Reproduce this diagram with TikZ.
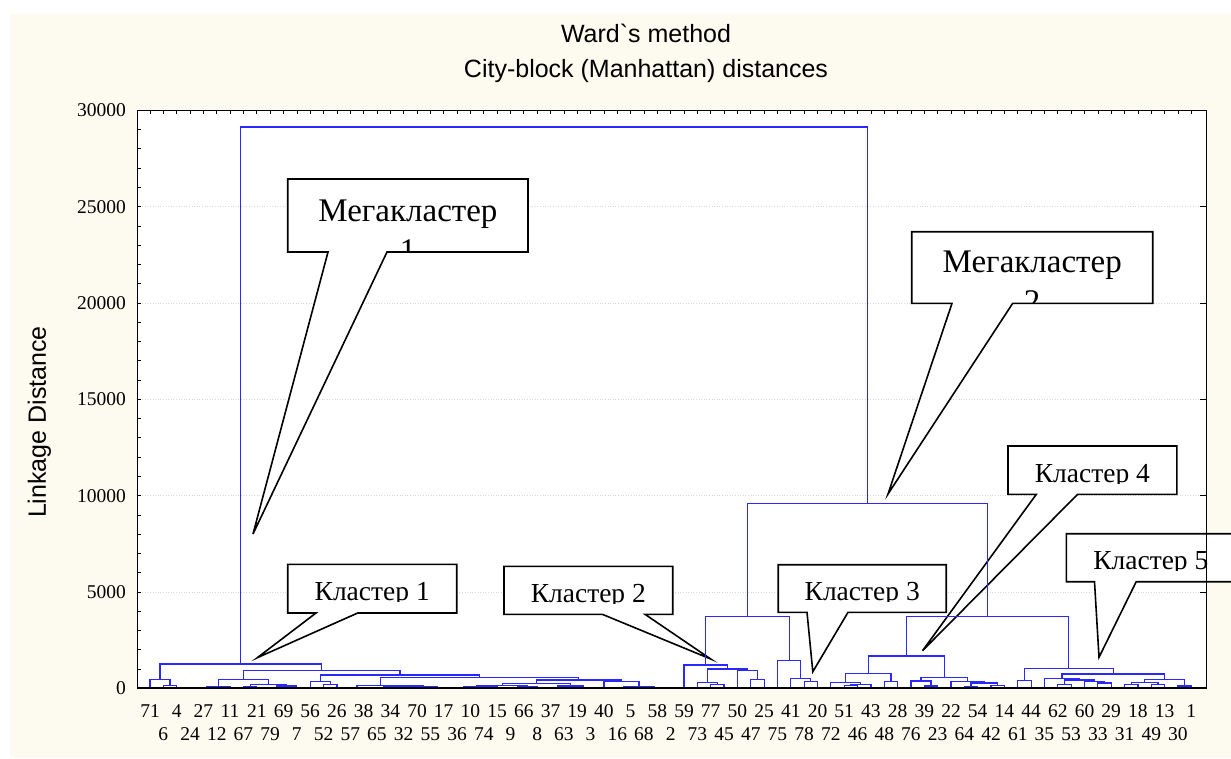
\documentclass[tikz,border=0pt]{standalone}
\usepackage{fontspec}
\setmainfont{Liberation Serif}
\newfontfamily\arialfont{Liberation Sans}
\usepackage{xcolor}
\usetikzlibrary{calc}

\definecolor{cream}{RGB}{253,250,240}
\definecolor{dendro}{RGB}{40,40,255}
\definecolor{gridgray}{RGB}{215,215,215}

% one link of the tree: name, left child, right child, height (x1000)
\newcommand{\dmerge}[4]{%
    \coordinate (#1m) at ($(#2)!0.5!(#3)$);
    \coordinate (#1h) at ($(origin)+(0,#4)$);
    \coordinate (#1) at (#1m |- #1h);
    \draw[link] (#2) |- (#1) -| (#3);
}

\begin{document}
\begin{tikzpicture}[x=1pt, y=-1pt]

\tikzset{
    link/.style = {draw=dendro, line width=1.2pt},
    gridline/.style = {draw=gridgray, dotted, line width=0.6pt},
    titlelab/.style = {font=\arialfont\fontsize{25}{30}\selectfont, inner sep=0pt},
    axlab/.style = {font=\fontsize{19.5}{23}\selectfont, inner sep=0pt, anchor=east},
    leaflab/.style = {font=\fontsize{19.5}{23}\selectfont, inner sep=0pt}
}

\tikzstyle{callout}=[draw=black, fill=white, line width=1.6pt, line join=miter]
\tikzstyle{megalab}=[font=\fontsize{33}{38}\selectfont, inner sep=0pt, anchor=base]
\tikzstyle{clulab}=[font=\fontsize{27.5}{33}\selectfont, inner sep=0pt, anchor=base]

\useasboundingbox (0,0) rectangle (1231,758);
\fill[cream] (10,14) rectangle (1231,758);
\fill[white] (137,110) rectangle (1206,688.3);

\foreach \v in {5,10,15,20,25}{
    \draw[gridline] (137,{688.3-19.267*\v}) -- (1206,{688.3-19.267*\v});
}

\node[titlelab] (title-1) at (646,33) {Ward\textasciigrave s method};
\node[titlelab] (title-2) at (646,71) {City-block (Manhattan) distances};
\node[titlelab, rotate=90] (ylabel) at (39.5,422) {Linkage Distance};

\foreach \v/\lab in {0/0,5/5000,10/10000,15/15000,20/20000,25/25000,30/30000}{
    \node[axlab] (y-\v) at (126,{688.3-19.267*\v}) {\lab};
}

% callouts
\path[callout] (287.7,179) -- (528,179) -- (528,252) -- (387,252) -- (253,534) -- (328,252) -- (287.7,252) -- cycle;
\begin{scope}
\clip (289,180) rectangle (527,251);
\node[megalab] (mega-1) at (407.9,221) {Мегакластер};
\node[megalab] (mega-1b) at (407.9,261) {1};
\end{scope}

\path[callout] (911.7,231.7) -- (1152.7,231.7) -- (1152.7,303.3) -- (1012.7,303.3) -- (888,494) -- (952,303.3) -- (911.7,303.3) -- cycle;
\begin{scope}
\clip (913,233) rectangle (1151,302.3);
\node[megalab] (mega-2) at (1032.2,272.7) {Мегакластер};
\node[megalab] (mega-2b) at (1032.2,312.7) {2};
\end{scope}

\path[callout] (287.7,564.3) -- (456.7,564.3) -- (456.7,613) -- (357.7,613) -- (257.3,657.7) -- (316,613) -- (287.7,613) -- cycle;
\begin{scope}
\clip (289,565.5) rectangle (455.5,601.8);
\node[clulab] (clu-1) at (372.2,600.7) {Кластер 1};
\end{scope}

\path[callout] (504,566.3) -- (672.7,566.3) -- (672.7,614.3) -- (645,614.3) -- (710.7,659) -- (602.3,614.3) -- (504,614.3) -- cycle;
\begin{scope}
\clip (505,567.5) rectangle (671.5,603.8);
\node[clulab] (clu-2) at (588.3,602.7) {Кластер 2};
\end{scope}

\path[callout] (778.2,564.7) -- (946.2,564.7) -- (946.2,612.3) -- (848,612.3) -- (812.8,671.7) -- (807,612.3) -- (778.2,612.3) -- cycle;
\begin{scope}
\clip (779.5,566) rectangle (945,601.1);
\node[clulab] (clu-3) at (862.2,600) {Кластер 3};
\end{scope}

\path[callout] (1008,446) -- (1176.8,446) -- (1176.8,494.3) -- (1077.6,494.3) -- (922.5,650.7) -- (1036.3,494.3) -- (1008,494.3) -- cycle;
\begin{scope}
\clip (1009,447.5) rectangle (1175.5,483.8);
\node[clulab] (clu-4) at (1092.4,482.7) {Кластер 4};
\end{scope}

\path[callout] (1231,533.7) -- (1066.4,533.7) -- (1066.4,581.7) -- (1094.5,581.7) -- (1099,657.3) -- (1136.2,581.7) -- (1231,581.7);
\begin{scope}
\clip (1067.5,535) rectangle (1231,570.4);
\node[clulab] (clu-5) at (1150.8,569.3) {Кластер 5};
\end{scope}

% tree
\begin{scope}[x=13.35pt, y=19.267pt]
\coordinate (origin) at (150pt,-688.3pt);
\foreach \i in {0,...,78}{
    \coordinate (l-\i) at ($(origin)+(\i,0)$);
}

\dmerge{a1}{l-1}{l-2}{0.14}
\dmerge{a2}{l-0}{a1}{0.47}
\dmerge{b1}{l-3}{l-4}{0.03}
\dmerge{b2}{b1}{l-5}{0.05}
\dmerge{b3}{b2}{l-6}{0.08}
\dmerge{c1}{l-7}{l-8}{0.10}
\dmerge{c2}{l-9}{l-10}{0.06}
\dmerge{c3}{c2}{l-11}{0.12}
\dmerge{c4}{c1}{c3}{0.20}
\dmerge{d1}{b3}{c4}{0.47}
\dmerge{j1}{l-13}{l-14}{0.20}
\dmerge{j2}{l-12}{j1}{0.34}
\dmerge{f1}{l-15}{l-16}{0.05}
\dmerge{f2}{l-17}{l-18}{0.04}
\dmerge{f3}{l-19}{l-20}{0.06}
\dmerge{f4}{l-21}{l-22}{0.05}
\dmerge{f5}{f3}{f4}{0.09}
\dmerge{f6}{f2}{f5}{0.12}
\dmerge{f7}{f1}{f6}{0.15}
\dmerge{p1}{l-23}{l-24}{0.05}
\dmerge{p2}{l-25}{l-26}{0.07}
\dmerge{p3}{p1}{p2}{0.10}
\dmerge{p4}{l-27}{l-28}{0.04}
\dmerge{p5}{p4}{l-29}{0.08}
\dmerge{p6}{p3}{p5}{0.14}
\dmerge{q1}{l-30}{l-31}{0.06}
\dmerge{q2}{l-32}{l-33}{0.05}
\dmerge{q3}{q1}{q2}{0.12}
\dmerge{q4}{p6}{q3}{0.26}
\dmerge{r1}{l-35}{l-36}{0.05}
\dmerge{r2}{l-38}{l-39}{0.03}
\dmerge{r3}{l-37}{r2}{0.06}
\dmerge{r4}{r1}{r3}{0.09}
\dmerge{r5}{l-34}{r4}{0.34}
\dmerge{k1}{q4}{r5}{0.43}
\dmerge{k2}{f7}{k1}{0.57}
\dmerge{k3}{j2}{k2}{0.69}
\dmerge{e1}{d1}{k3}{0.91}
\dmerge{mk1}{a2}{e1}{1.26}

\dmerge{g1}{l-42}{l-43}{0.20}
\dmerge{g2}{l-41}{g1}{0.29}
\dmerge{g3}{l-45}{l-46}{0.47}
\dmerge{g4}{l-44}{g3}{0.91}
\dmerge{g5}{g2}{g4}{1.00}
\dmerge{g6}{l-40}{g5}{1.21}
\dmerge{h1}{l-49}{l-50}{0.34}
\dmerge{h2}{l-48}{h1}{0.50}
\dmerge{h3}{l-47}{h2}{1.45}
\dmerge{i1}{g6}{h3}{3.74}
\dmerge{t1}{l-52}{l-53}{0.15}
\dmerge{t2}{t1}{l-54}{0.20}
\dmerge{t3}{l-51}{t2}{0.29}
\dmerge{t4}{l-55}{l-56}{0.34}
\dmerge{t5}{t3}{t4}{0.78}
\dmerge{s1}{l-58}{l-59}{0.12}
\dmerge{s2}{l-57}{s1}{0.38}
\dmerge{u1}{l-61}{l-62}{0.10}
\dmerge{u2}{l-63}{l-64}{0.15}
\dmerge{u3}{u1}{u2}{0.28}
\dmerge{u4}{l-60}{u3}{0.34}
\dmerge{s3}{s2}{u4}{0.55}
\dmerge{s4}{t5}{s3}{1.68}
\dmerge{v1}{l-65}{l-66}{0.39}
\dmerge{w1}{l-68}{l-69}{0.20}
\dmerge{w2}{l-71}{l-72}{0.28}
\dmerge{w3}{l-70}{w2}{0.34}
\dmerge{w4}{w1}{w3}{0.43}
\dmerge{w5}{l-67}{w4}{0.50}
\dmerge{x1}{l-73}{l-74}{0.18}
\dmerge{x2}{l-75}{l-76}{0.20}
\dmerge{x3}{x1}{x2}{0.30}
\dmerge{x4}{l-77}{l-78}{0.12}
\dmerge{x5}{x3}{x4}{0.47}
\dmerge{w6}{w5}{x5}{0.74}
\dmerge{v2}{v1}{w6}{1.04}
\dmerge{s5}{s4}{v2}{3.72}
\dmerge{mk2}{i1}{s5}{9.60}

\dmerge{root}{mk1}{mk2}{29.13}

\foreach \lab [count=\k from 0] in {71,4,27,11,21,69,56,26,38,34,70,17,10,15,66,37,19,40,5,58,59,77,50,25,41,20,51,43,28,39,22,54,14,44,62,60,29,18,13,1}{
    \node[leaflab] (top-\k) at ($(origin)+({2*\k},0)+(0,-22.7pt)$) {\lab};
}
\foreach \lab [count=\k from 0] in {6,24,12,67,79,7,52,57,65,32,55,36,74,9,8,63,3,16,68,2,73,45,47,75,78,72,46,48,76,23,64,42,61,35,53,33,31,49,30}{
    \node[leaflab] (bot-\k) at ($(origin)+({2*\k+1},0)+(0,-45.7pt)$) {\lab};
}
\end{scope}

% frame and ticks
\draw[line width=0.9pt] (137,110) rectangle (1206,688.3);
\draw[line width=1.8pt] (137,688.3) -- (1206,688.3);
\foreach \i in {0,...,78}{
    \draw[line width=0.7pt] ({150+13.35*\i},110) -- ++(0,3.5);
}
\foreach \v in {1,...,29}{
    \draw[line width=0.7pt] (137,{688.3-19.267*\v}) -- ++(3.5,0);
}
\foreach \v in {5,10,15,20,25}{
    \draw[line width=0.8pt] (1206,{688.3-19.267*\v}) -- ++(-6,0);
}

\end{tikzpicture}
\end{document}
